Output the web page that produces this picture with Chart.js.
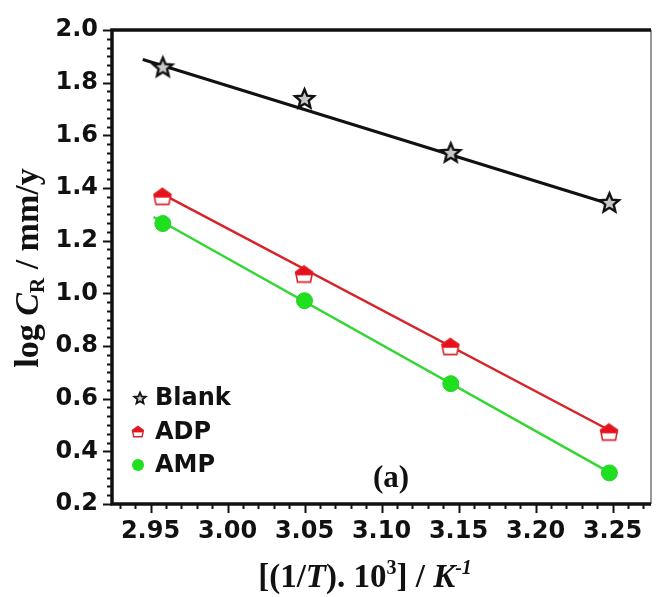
<!DOCTYPE html>
<html>
<head>
<meta charset="utf-8">
<script src="https://cdn.jsdelivr.net/npm/chart.js@4.4.1/dist/chart.umd.min.js"></script>
<style>
    html, body { margin: 0; padding: 0; background: #fff; }
    #wrap { width: 660px; height: 597px; position: relative; }
</style>
</head>
<body>
<div id="wrap"><canvas id="arrheniusChart"></canvas></div>
<script>
// x values: (1/T).10^3
const invTemp = [2.958, 3.05, 3.145, 3.248];

// log CR measured points
const blankVals = [1.86, 1.74, 1.535, 1.345];
const adpVals = [1.365, 1.07, 0.795, 0.47];
const ampVals = [1.265, 0.972, 0.657, 0.318];

// fitted line end points
const blankFitX = [2.945, 3.245];
const blankFitY = [1.888, 1.345];
const adpFitX = [2.955, 3.248];
const adpFitY = [1.385, 0.48];
const ampFitX = [2.952, 3.248];
const ampFitY = [1.29, 0.32];

const seriesNames = ['Blank', 'ADP', 'AMP'];

// tick labels
const xTicks = [2.95, 3.00, 3.05, 3.10, 3.15, 3.20, 3.25];
const yTicks = [0.2, 0.4, 0.6, 0.8, 1.0, 1.2, 1.4, 1.6, 1.8, 2.0];

const X_MIN = 2.925, X_MAX = 3.275, X_STEP = 0.05, X_MINOR = 4;
const Y_MIN = 0.2, Y_MAX = 2.0, Y_STEP = 0.2, Y_MINOR = 5;

const RED = '#d8232a';
const GREEN = '#33d633';
const TICK_FONT = 'DejaVu Sans';
const SERIF = '"Liberation Serif", "Times New Roman", serif';

function toPoints(xs, ys) {
    return xs.map((x, i) => ({ x, y: ys[i] }));
}

function makeStar(r, lw, fill) {
    const size = Math.ceil(2 * r + lw * 2 + 2);
    const c = document.createElement('canvas');
    c.width = c.height = size;
    const g = c.getContext('2d');
    const cx = size / 2, cy = size / 2 + r * 0.08;
    g.beginPath();
    for (let i = 0; i < 10; i++) {
        const rad = i % 2 ? r * 0.45 : r;
        const a = -Math.PI / 2 + i * Math.PI / 5;
        g.lineTo(cx + rad * Math.cos(a), cy + rad * Math.sin(a));
    }
    g.closePath();
    g.fillStyle = fill;
    g.fill();
    g.lineWidth = lw;
    g.strokeStyle = '#111';
    g.lineJoin = 'miter';
    g.stroke();
    return c;
}

function makeHouse(w, lw) {
    const pad = lw + 1;
    const size = Math.ceil(w + pad * 2);
    const c = document.createElement('canvas');
    c.width = c.height = size;
    const g = c.getContext('2d');
    const h = w * 0.94;
    const path = () => {
        g.beginPath();
        g.moveTo(pad + w / 2, pad);
        g.lineTo(pad + w, pad + h * 0.38);
        g.lineTo(pad + w * 0.88, pad + h);
        g.lineTo(pad + w * 0.12, pad + h);
        g.lineTo(pad, pad + h * 0.38);
        g.closePath();
    };
    path();
    g.fillStyle = '#fff';
    g.fill();
    g.save();
    path();
    g.clip();
    g.fillStyle = '#e8101a';
    g.fillRect(0, 0, size, pad + h * 0.58);
    g.restore();
    path();
    g.lineWidth = lw;
    g.strokeStyle = RED;
    g.stroke();
    return c;
}

const starBig = makeStar(10, 2.4, '#c8c8c8');
const starSmall = makeStar(6, 1.8, '#ccc');
const houseBig = makeHouse(17, 1.6);
const houseSmall = makeHouse(11, 1.4);

function drawRich(ctx, parts, x, y) {
    let total = 0;
    parts.forEach(p => {
        ctx.font = p.font;
        p.w = ctx.measureText(p.text).width;
        total += p.w;
    });
    let cx = x - total / 2;
    parts.forEach(p => {
        ctx.font = p.font;
        ctx.fillText(p.text, cx, y + (p.dy || 0));
        cx += p.w;
    });
}

const frame = {
    id: 'frame',
    afterDraw(chart) {
        const { ctx, chartArea: a, scales } = chart;
        ctx.save();

        // minor / major ticks, outward
        ctx.strokeStyle = '#111';
        ctx.lineWidth = 2;
        const xs = scales.x;
        const xSub = X_STEP / (X_MINOR + 1);
        for (let i = Math.ceil(X_MIN / xSub - 1e-6); i <= Math.floor(X_MAX / xSub + 1e-6); i++) {
            const px = Math.round(xs.getPixelForValue(i * xSub)) + 0.5;
            const len = i % (X_MINOR + 1) === 0 ? 9 : 5;
            ctx.beginPath();
            ctx.moveTo(px, a.bottom);
            ctx.lineTo(px, a.bottom + len);
            ctx.stroke();
        }
        const ys = scales.y;
        const ySub = Y_STEP / (Y_MINOR + 1);
        for (let i = Math.ceil(Y_MIN / ySub - 1e-6); i <= Math.floor(Y_MAX / ySub + 1e-6); i++) {
            const py = Math.round(ys.getPixelForValue(i * ySub)) + 0.5;
            const len = i % (Y_MINOR + 1) === 0 ? 9 : 5;
            ctx.beginPath();
            ctx.moveTo(a.left, py);
            ctx.lineTo(a.left - len, py);
            ctx.stroke();
        }

        // box
        ctx.strokeStyle = '#777';
        ctx.lineWidth = 1.5;
        ctx.beginPath();
        ctx.moveTo(a.right, a.top);
        ctx.lineTo(a.right, a.bottom);
        ctx.stroke();
        ctx.strokeStyle = '#111';
        ctx.lineWidth = 3.5;
        ctx.beginPath();
        ctx.moveTo(a.right, a.top);
        ctx.lineTo(a.left, a.top);
        ctx.lineTo(a.left, a.bottom);
        ctx.lineTo(a.right, a.bottom);
        ctx.stroke();

        // legend
        ctx.fillStyle = '#111';
        ctx.textBaseline = 'middle';
        ctx.font = `bold 24px ${TICK_FONT}`;
        const legY = [398, 432, 465];
        ctx.drawImage(starSmall, 140 - starSmall.width / 2, legY[0] - starSmall.height / 2);
        ctx.drawImage(houseSmall, 138 - houseSmall.width / 2, legY[1] - houseSmall.height / 2);
        ctx.beginPath();
        ctx.arc(138, legY[2], 6, 0, Math.PI * 2);
        ctx.fillStyle = '#1fe01f';
        ctx.fill();
        ctx.fillStyle = '#111';
        seriesNames.forEach((name, i) => ctx.fillText(name, 155, legY[i] + 1));

        // panel label
        ctx.textBaseline = 'alphabetic';
        ctx.textAlign = 'left';
        ctx.font = `bold 31px ${SERIF}`;
        ctx.fillText('(a)', 373, 487);

        // x title
        drawRich(ctx, [
            { text: '[(1/', font: `bold 33px ${SERIF}` },
            { text: 'T', font: `italic bold 33px ${SERIF}` },
            { text: '). 10', font: `bold 33px ${SERIF}` },
            { text: '3', font: `bold 20px ${SERIF}`, dy: -13 },
            { text: '] / ', font: `bold 33px ${SERIF}` },
            { text: 'K', font: `italic bold 33px ${SERIF}` },
            { text: '-1', font: `italic bold 20px ${SERIF}`, dy: -13 }
        ], 365, 587);

        // y title
        ctx.translate(38, 268);
        ctx.rotate(-Math.PI / 2);
        drawRich(ctx, [
            { text: 'log ', font: `bold 34px ${SERIF}` },
            { text: 'C', font: `italic bold 34px ${SERIF}` },
            { text: 'R', font: `bold 21px ${SERIF}`, dy: 6 },
            { text: ' / mm/y', font: `bold 34px ${SERIF}` }
        ], 0, 0);

        ctx.restore();
    }
};

const ctx = document.getElementById('arrheniusChart').getContext('2d');
new Chart(ctx, {
    type: 'scatter',
    data: {
        datasets: [
            {
                label: 'Blank fit',
                data: toPoints(blankFitX, blankFitY),
                showLine: true,
                borderColor: '#111',
                borderWidth: 3,
                pointRadius: 0,
                order: 3
            },
            {
                label: 'ADP fit',
                data: toPoints(adpFitX, adpFitY),
                showLine: true,
                borderColor: RED,
                borderWidth: 2.5,
                pointRadius: 0,
                order: 3
            },
            {
                label: 'AMP fit',
                data: toPoints(ampFitX, ampFitY),
                showLine: true,
                borderColor: GREEN,
                borderWidth: 2.5,
                pointRadius: 0,
                order: 3
            },
            {
                label: seriesNames[0],
                data: toPoints(invTemp, blankVals),
                pointStyle: starBig,
                order: 1
            },
            {
                label: seriesNames[1],
                data: toPoints(invTemp, adpVals),
                pointStyle: houseBig,
                order: 1
            },
            {
                label: seriesNames[2],
                data: toPoints(invTemp, ampVals),
                pointStyle: 'circle',
                pointRadius: 8,
                backgroundColor: '#1fe01f',
                borderColor: '#2ccc2c',
                borderWidth: 1,
                order: 1
            }
        ]
    },
    options: {
        responsive: true,
        maintainAspectRatio: false,
        animation: false,
        devicePixelRatio: 1,
        layout: { padding: { top: 30, right: 1, left: 0, bottom: 0 } },
        plugins: {
            legend: { display: false },
            tooltip: { enabled: false }
        },
        scales: {
            x: {
                type: 'linear',
                min: X_MIN,
                max: X_MAX,
                grid: { display: false, drawTicks: false },
                border: { display: false },
                afterBuildTicks: (scale) => { scale.ticks = xTicks.map(v => ({ value: v })); },
                ticks: {
                    autoSkip: false,
                    maxRotation: 0,
                    padding: 13,
                    color: '#111',
                    font: { family: TICK_FONT, size: 24, weight: 'bold' },
                    callback: (v) => Number(v).toFixed(2)
                },
                afterFit: (scale) => {
                    scale.height = 93;
                    scale.paddingLeft = 0;
                    scale.paddingRight = 0;
                }
            },
            y: {
                type: 'linear',
                min: Y_MIN,
                max: Y_MAX,
                grid: { display: false, drawTicks: false },
                border: { display: false },
                afterBuildTicks: (scale) => { scale.ticks = yTicks.map(v => ({ value: v })); },
                ticks: {
                    autoSkip: false,
                    padding: 14,
                    color: '#111',
                    font: { family: TICK_FONT, size: 24, weight: 'bold' },
                    callback: (v) => Number(v).toFixed(1)
                },
                afterFit: (scale) => {
                    scale.width = 112;
                    scale.paddingTop = 0;
                    scale.paddingBottom = 0;
                }
            }
        }
    },
    plugins: [frame]
});
</script>
</body>
</html>
